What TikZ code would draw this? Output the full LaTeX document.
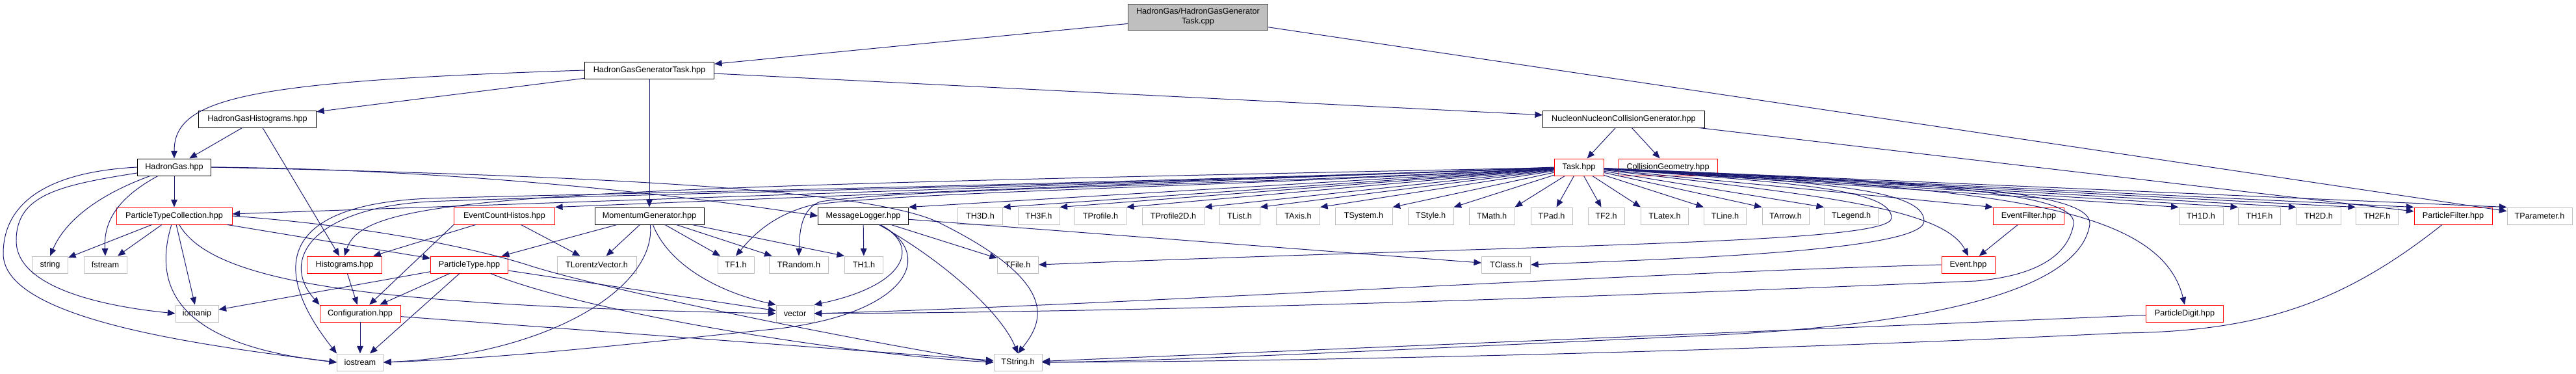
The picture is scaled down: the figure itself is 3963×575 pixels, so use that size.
\documentclass[tikz,border=0pt]{standalone}
\usepackage{fontspec}
\setmainfont{Liberation Sans}
\usepackage{tikz}
\usetikzlibrary{arrows.meta}
\definecolor{edgeblue}{RGB}{25,25,112}
\tikzset{
  file/.style={draw=black, fill=white, line width=0.7pt,
               minimum height=6.5mm, inner sep=1pt, align=center},
  redfile/.style={file, draw=red},
  sysfile/.style={file, draw=black!25},
  rootfile/.style={file, fill=black!25, draw=black!70, minimum height=10mm},
  bw/.style={minimum width=#1*0.25mm},
  arrow/.style={-{Triangle[length=2.9mm, width=2.4mm]}, edgeblue, line width=0.7pt}
}

\begin{document}
\begin{tikzpicture}[x=0.25mm, y=0.25mm, font=\fontsize{9}{10.5}\selectfont]
    \useasboundingbox (0,0) rectangle (3963,-575);

    \node[rootfile, bw=215] (root) at (1843,-26) {HadronGas/HadronGasGenerator\\Task.cpp};
    \node[file, bw=199] (gentask) at (999,-108) {HadronGasGeneratorTask.hpp};
    \node[file, bw=181] (hghist) at (396,-183) {HadronGasHistograms.hpp};
    \node[file, bw=249] (nngen) at (2498,-183) {NucleonNucleonCollisionGenerator.hpp};
    \node[file, bw=113] (hgas) at (268,-257) {HadronGas.hpp};
    \node[redfile, bw=76] (task) at (2429,-257) {Task.hpp};
    \node[redfile, bw=152] (collgeo) at (2566,-257) {CollisionGeometry.hpp};

    \node[redfile, bw=178] (ptcoll) at (268,-332) {ParticleTypeCollection.hpp};
    \node[redfile, bw=155] (evcount) at (776,-332) {EventCountHistos.hpp};
    \node[file, bw=168] (momgen) at (999,-332) {MomentumGenerator.hpp};
    \node[file, bw=139] (msglog) at (1328,-332) {MessageLogger.hpp};
    \node[sysfile, bw=69] (th3d) at (1508,-332) {TH3D.h};
    \node[sysfile, bw=64] (th3f) at (1598,-332) {TH3F.h};
    \node[sysfile, bw=79] (tprof) at (1693,-332) {TProfile.h};
    \node[sysfile, bw=95] (tprof2) at (1805,-332) {TProfile2D.h};
    \node[sysfile, bw=62] (tlist) at (1907,-332) {TList.h};
    \node[sysfile, bw=67] (taxis) at (1997,-332) {TAxis.h};
    \node[sysfile, bw=88] (tsys) at (2098,-332) {TSystem.h};
    \node[sysfile, bw=70] (tstyle) at (2201,-332) {TStyle.h};
    \node[sysfile, bw=70] (tmath) at (2295,-332) {TMath.h};
    \node[sysfile, bw=64] (tpad) at (2387,-332) {TPad.h};
    \node[sysfile, bw=56] (tf2) at (2471,-332) {TF2.h};
    \node[sysfile, bw=73] (tlatex) at (2561,-332) {TLatex.h};
    \node[sysfile, bw=65] (tline) at (2654,-332) {TLine.h};
    \node[sysfile, bw=72] (tarrow) at (2747,-332) {TArrow.h};
    \node[sysfile, bw=83] (tlegend) at (2848,-332) {TLegend.h};
    \node[redfile, bw=109] (evfilter) at (3121,-332) {EventFilter.hpp};
    \node[sysfile, bw=68] (th1d) at (3386,-332) {TH1D.h};
    \node[sysfile, bw=65] (th1f) at (3476,-332) {TH1F.h};
    \node[sysfile, bw=68] (th2d) at (3567,-332) {TH2D.h};
    \node[sysfile, bw=65] (th2f) at (3657,-332) {TH2F.h};
    \node[redfile, bw=120] (ptfilter) at (3774,-332) {ParticleFilter.hpp};
    \node[sysfile, bw=100] (tparam) at (3907,-332) {TParameter.h};

    \node[sysfile, bw=55] (string) at (77,-407) {string};
    \node[sysfile, bw=66] (fstream) at (162,-407) {fstream};
    \node[redfile, bw=115] (histos) at (530,-407) {Histograms.hpp};
    \node[redfile, bw=119] (pttype) at (722,-407) {ParticleType.hpp};
    \node[sysfile, bw=122] (tlorentz) at (918,-407) {TLorentzVector.h};
    \node[sysfile, bw=56] (tf1) at (1132,-407) {TF1.h};
    \node[sysfile, bw=91] (trandom) at (1229,-407) {TRandom.h};
    \node[sysfile, bw=59] (th1) at (1329,-407) {TH1.h};
    \node[sysfile, bw=63] (tfile) at (1566,-407) {TFile.h};
    \node[sysfile, bw=75] (tclass) at (2317,-407) {TClass.h};
    \node[redfile, bw=82] (event) at (3028,-407) {Event.hpp};

    \node[sysfile, bw=66] (iomanip) at (303,-482) {iomanip};
    \node[redfile, bw=124] (config) at (554,-482) {Configuration.hpp};
    \node[sysfile, bw=58] (vector) at (1223,-482) {vector};
    \node[redfile, bw=119] (ptdigit) at (3361,-482) {ParticleDigit.hpp};

    \node[sysfile, bw=71] (iostream) at (554,-557) {iostream};
    \node[sysfile, bw=74] (tstring) at (1566,-557) {TString.h};

    \draw[arrow] (root) -- (gentask);
    \draw[arrow] (root) -- (tparam);

    \draw[arrow] (gentask.west) .. controls (380,-125) and (268,-150) .. (hgas.north);
    \draw[arrow] (gentask) -- (hghist);
    \draw[arrow] (gentask) -- (nngen);
    \draw[arrow] (gentask) -- (momgen);

    \draw[arrow] (hghist) -- (hgas);
    \draw[arrow] (hghist) -- (histos);

    \draw[arrow] (nngen) -- (task);
    \draw[arrow] (nngen) -- (collgeo);
    \draw[arrow] (nngen) -- (ptfilter);

    \draw[arrow] (hgas) -- (ptcoll);
    \draw[arrow] (hgas) .. controls (150,-300) and (100,-340) .. (string.north);
    \draw[arrow] (hgas) .. controls (170,-310) and (160,-350) .. (fstream.north);
    \draw[arrow] (hgas) .. controls (90,-285) and (25,-300) .. (25,-370)
        .. controls (25,-440) and (150,-470) .. (iomanip.west);
    \draw[arrow] (hgas.west) .. controls (60,-265) and (5,-320) .. (5,-390)
        .. controls (5,-490) and (300,-530) .. (iostream.west);
    \draw[arrow] (hgas.east) .. controls (700,-260) and (1050,-300) .. (msglog.west);
    \draw[arrow] (hgas.east) .. controls (900,-270) and (1350,-290) .. (1450,-345)
        .. controls (1640,-440) and (1600,-500) .. (tstring.north);

    \draw[arrow] (ptcoll) -- (string);
    \draw[arrow] (ptcoll) -- (fstream);
    \draw[arrow] (ptcoll) -- (iomanip);
    \draw[arrow] (ptcoll) .. controls (235,-440) and (270,-530) .. (iostream.west);
    \draw[arrow] (ptcoll) -- (pttype);
    \draw[arrow] (ptcoll) .. controls (330,-440) and (600,-470) .. (vector.west);
    \draw[arrow] (ptcoll.east) .. controls (600,-350) and (760,-390) .. (820,-410)
        .. controls (950,-450) and (1350,-530) .. (tstring.west);

    \draw[arrow] (pttype) -- (iomanip);
    \draw[arrow] (pttype) -- (config);
    \draw[arrow] (pttype) -- (iostream);
    \draw[arrow] (pttype) -- (vector);
    \draw[arrow] (pttype) .. controls (900,-480) and (1300,-545) .. (tstring.west);

    \draw[arrow] (config) -- (iostream);
    \draw[arrow] (config) -- (tstring);
    \draw[arrow] (histos) -- (config);

    \draw[arrow] (evcount) -- (histos);
    \draw[arrow] (evcount.south west) -- (config);
    \draw[arrow] (evcount) -- (tlorentz);

    \draw[arrow] (momgen) -- (pttype);
    \draw[arrow] (momgen) -- (tlorentz);
    \draw[arrow] (momgen) .. controls (1010,-440) and (850,-545) .. (iostream.east);
    \draw[arrow] (momgen) .. controls (1030,-410) and (1110,-450) .. (vector.north west);
    \draw[arrow] (momgen) -- (tf1);
    \draw[arrow] (momgen) -- (trandom);
    \draw[arrow] (momgen) -- (th1.north west);

    \draw[arrow] (msglog) -- (th1);
    \draw[arrow] (msglog) -- (tfile);
    \draw[arrow] (msglog) -- (tclass);
    \draw[arrow] (msglog) .. controls (1450,-400) and (1540,-480) .. (tstring.north);
    \draw[arrow] (msglog) .. controls (1420,-380) and (1390,-440) .. (vector.north east);
    \draw[arrow] (msglog) .. controls (1440,-390) and (1400,-480) .. (1200,-505)
        .. controls (1000,-525) and (800,-550) .. (iostream.east);

    \draw[arrow] (task) -- (ptcoll);
    \draw[arrow] (task.west) -- (evcount.north east);
    \draw[arrow] (task) -- (msglog.north east);
    \draw[arrow] (task) .. controls (800,-290) and (560,-300) .. (histos.north);
    \draw[arrow] (task) .. controls (1500,-290) and (900,-300) .. (660,-310)
        .. controls (480,-320) and (430,-400) .. (config.north west);
    \draw[arrow] (task) .. controls (1500,-288) and (900,-298) .. (660,-305)
        .. controls (420,-315) and (420,-420) .. (iostream.north west);
    \draw[arrow] (task) .. controls (1800,-290) and (1400,-295) .. (1250,-315)
        .. controls (1190,-330) and (1160,-360) .. (tf1.north);
    \draw[arrow] (task) .. controls (1800,-288) and (1400,-290) .. (1262,-310)
        .. controls (1235,-320) and (1230,-350) .. (trandom.north);
    \draw[arrow] (task) -- (th3d.north east);
    \draw[arrow] (task) -- (th3f.north east);
    \draw[arrow] (task) -- (tprof.north east);
    \draw[arrow] (task) -- (tprof2.north east);
    \draw[arrow] (task) -- (tlist.north east);
    \draw[arrow] (task) -- (taxis.north east);
    \draw[arrow] (task) -- (tsys.north east);
    \draw[arrow] (task) -- (tstyle.north east);
    \draw[arrow] (task) -- (tmath.north east);
    \draw[arrow] (task) -- (tpad);
    \draw[arrow] (task) -- (tf2);
    \draw[arrow] (task) -- (tlatex.north west);
    \draw[arrow] (task) -- (tline.north west);
    \draw[arrow] (task) -- (tarrow.north west);
    \draw[arrow] (task) -- (tlegend.north west);
    \draw[arrow] (task) -- (evfilter.north west);
    \draw[arrow] (task) -- (th1d.north west);
    \draw[arrow] (task) -- (th1f.north west);
    \draw[arrow] (task) -- (th2d.north west);
    \draw[arrow] (task) -- (th2f.north west);
    \draw[arrow] (task) -- (ptfilter.north west);
    \draw[arrow] (task) -- (tparam.north west);
    \draw[arrow] (task) .. controls (2800,-300) and (2990,-320) .. (event.north);
    \draw[arrow] (task) .. controls (3000,-290) and (3320,-300) .. (ptdigit.north);
    \draw[arrow] (task) .. controls (2750,-280) and (2910,-290) .. (2910,-335)
        .. controls (2910,-375) and (2400,-375) .. (tfile.east);
    \draw[arrow] (task) .. controls (2800,-280) and (2960,-290) .. (2960,-340)
        .. controls (2960,-390) and (2500,-400) .. (tclass.east);
    \draw[arrow] (task) .. controls (2900,-280) and (3200,-290) .. (3190,-345)
        .. controls (3180,-400) and (3120,-425) .. (3040,-432)
        .. controls (2500,-455) and (1800,-480) .. (vector.east);
    \draw[arrow] (task) .. controls (2950,-280) and (3220,-290) .. (3215,-345)
        .. controls (3200,-440) and (3000,-500) .. (2600,-517)
        .. controls (2100,-540) and (1800,-555) .. (tstring.east);

    \draw[arrow] (evfilter) -- (event);
    \draw[arrow] (event.west) .. controls (2500,-420) and (1700,-470) .. (vector.east);
    \draw[arrow] (ptfilter) .. controls (3600,-470) and (3470,-510) .. (3263,-512)
        .. controls (2700,-540) and (2000,-556) .. (tstring.east);
    \draw[arrow] (ptdigit) -- (tstring);
\end{tikzpicture}
\end{document}
